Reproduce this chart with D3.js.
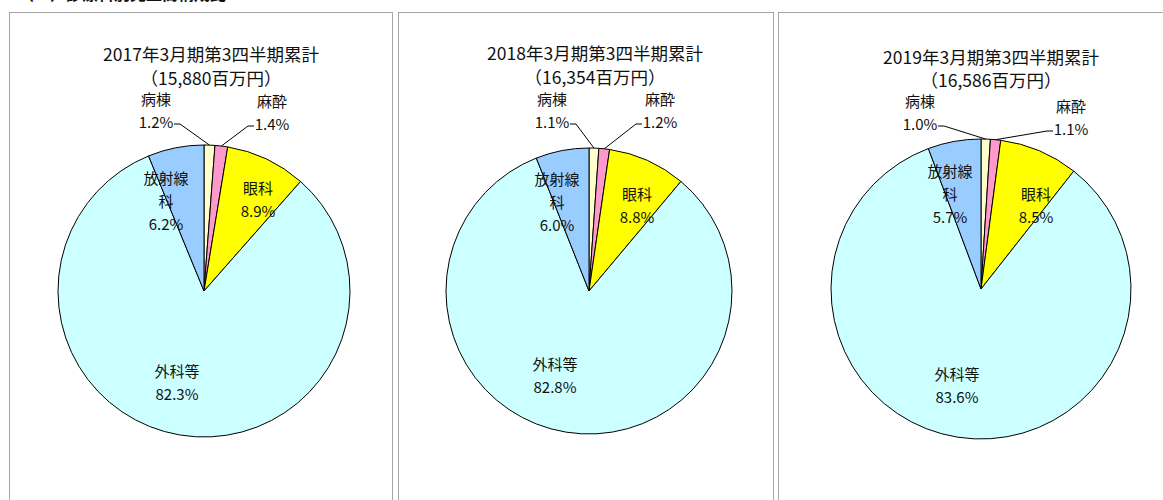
<!DOCTYPE html>
<html>
<head>
<meta charset="utf-8">
<script src="https://cdn.jsdelivr.net/npm/d3@7"></script>
<style>
  body { margin: 0; background: #fff; }
  svg text { font-family: "Noto Sans CJK JP", "Noto Sans", sans-serif; fill: #111; }
</style>
</head>
<body>
<svg id="chart" width="1163" height="500"></svg>
<script>
// data
var categories = ["病棟", "麻酔", "眼科", "外科等", "放射線科"];
var catLines = [["病棟"], ["麻酔"], ["眼科"], ["外科等"], ["放射線", "科"]];
var colors = ["#FFFFCC", "#FF99CC", "#FFFF00", "#CCFFFF", "#99CCFF"];
var periods = ["2017年3月期第3四半期累計", "2018年3月期第3四半期累計", "2019年3月期第3四半期累計"];
var totals = ["15,880", "16,354", "16,586"];
var shares2017 = [1.2, 1.4, 8.9, 82.3, 6.2];
var shares2018 = [1.1, 1.2, 8.8, 82.8, 6.0];
var shares2019 = [1.0, 1.1, 8.5, 83.6, 5.7];
var allShares = [shares2017, shares2018, shares2019];

// layout of the three panels (label positions are relative to pie centre)
var panels = [
    { x: 9.5, w: 383, cx: 204, cy: 291, r: 146, tx: 211, ty: 53, gap: 24,
      labels: [[-48, -193], [68, -191], [54, -104], [-27, 79], [-38, -114]] },
    { x: 398.5, w: 375, cx: 589, cy: 291, r: 143, tx: 595, ty: 52, gap: 24,
      labels: [[-37, -193], [71, -193], [48, -98], [-34, 72], [-32, -113]] },
    { x: 778.5, w: 400, cx: 981, cy: 289, r: 150, tx: 991, ty: 56, gap: 23,
      labels: [[-61, -189], [90, -184], [55, -96], [-24, 84], [-31, -119]] }
];
var lineGap = 23;
var outside = [true, true, false, false, false];

var svg = d3.select("#chart");

// cut-off heading at the very top
svg.append("text")
    .attr("x", 18).attr("y", 0)
    .style("font-size", "16px").style("font-weight", "bold")
    .text("（３）診療科別売上高構成比");

var pie = d3.pie().sort(null).value(d => d);

panels.forEach(function (p, i) {
    svg.append("rect")
        .attr("x", p.x).attr("y", 12.5)
        .attr("width", p.w).attr("height", 500)
        .attr("fill", "#fff")
        .attr("stroke", "#a6a6a6");

    var g = svg.append("g").attr("transform", "translate(" + p.cx + "," + p.cy + ")");
    var arc = d3.arc().innerRadius(0).outerRadius(p.r);
    var arcs = pie(allShares[i]);

    g.selectAll("path")
        .data(arcs)
        .enter()
        .append("path")
        .attr("d", arc)
        .attr("fill", (d, j) => colors[j])
        .attr("stroke", "#000")
        .attr("stroke-width", 1);

    // title
    svg.append("text")
        .attr("x", p.tx).attr("y", p.ty)
        .attr("text-anchor", "middle").attr("dominant-baseline", "central")
        .style("font-size", "17.5px")
        .text(periods[i]);
    svg.append("text")
        .attr("x", p.tx).attr("y", p.ty + p.gap)
        .attr("text-anchor", "middle").attr("dominant-baseline", "central")
        .style("font-size", "17.5px")
        .text("（" + totals[i] + "百万円）");

    // labels
    arcs.forEach(function (a, j) {
        var lx = p.labels[j][0], ly = p.labels[j][1];
        var lines = catLines[j].concat([d3.format(".1f")(a.data) + "%"]);
        lines.forEach(function (t, k) {
            g.append("text")
                .attr("x", lx).attr("y", ly + k * lineGap)
                .attr("text-anchor", "middle").attr("dominant-baseline", "central")
                .style("font-size", "15px")
                .text(t);
        });
        if (outside[j]) {
            var mid = (a.startAngle + a.endAngle) / 2;
            var ex = Math.sin(mid) * p.r, ey = -Math.cos(mid) * p.r;
            var py = ly + lineGap + 3;
            var side = lx < ex ? 1 : -1;
            var sx = lx + side * 18;
            g.append("polyline")
                .attr("points", [[sx, py], [sx + side * 6, py], [ex, ey]].map(q => q.join(",")).join(" "))
                .attr("fill", "none")
                .attr("stroke", "#000")
                .attr("stroke-width", 1);
        }
    });
});
</script>
</body>
</html>
